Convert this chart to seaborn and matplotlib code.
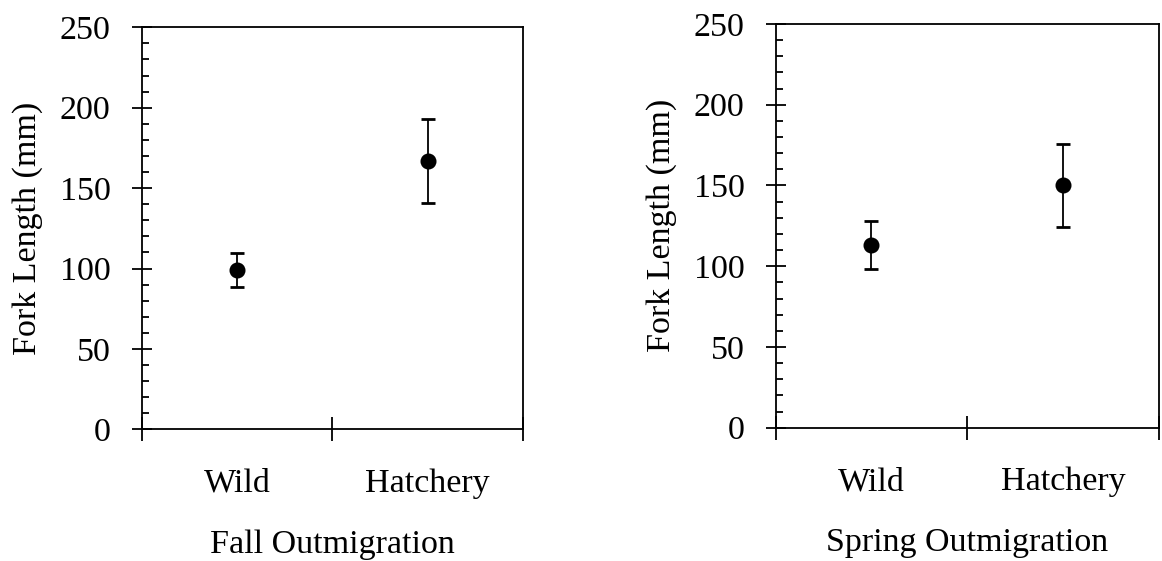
import numpy as np
import pandas as pd
import matplotlib
matplotlib.use("Agg")
import matplotlib.pyplot as plt
import seaborn as sns
from matplotlib.ticker import MultipleLocator, FixedLocator

# values (mean fork length and +/- spread, mm)
groups = ["Wild", "Hatchery"]
fall_mean = [99, 167]
fall_err = [10.5, 26]
spring_mean = [113, 150]
spring_err = [15, 26]
panel_titles = ["Fall Outmigration", "Spring Outmigration"]
y_ticks = [0, 50, 100, 150, 200, 250]

sns.set_style("ticks")
plt.rcParams["font.family"] = ["Liberation Serif", "DejaVu Serif"]
plt.rcParams["font.size"] = 24.5
plt.rcParams["text.color"] = "black"
plt.rcParams["axes.labelcolor"] = "black"
plt.rcParams["xtick.color"] = "black"
plt.rcParams["ytick.color"] = "black"

fig = plt.figure(figsize=(11.62, 5.61), dpi=100)
ax1 = fig.add_axes([0.1222, 0.2347, 0.3278, 0.7166])
ax2 = fig.add_axes([0.6675, 0.2376, 0.3299, 0.7196])

panels = [(ax1, fall_mean, fall_err, panel_titles[0]),
          (ax2, spring_mean, spring_err, panel_titles[1])]

for ax, means, errs, title in panels:
    df = pd.DataFrame({"group": groups, "mean": means, "err": errs})
    sns.pointplot(data=df, x="group", y="mean", order=groups, errorbar=None,
                  linestyle="none", color="black", marker="o", markersize=9.5,
                  ax=ax)
    pos = np.arange(len(groups))
    ax.errorbar(pos, df["mean"], yerr=df["err"], fmt="none", ecolor="black",
                elinewidth=1.3, capsize=5, capthick=2, zorder=1)

    ax.set_xlim(-0.5, len(groups) - 0.5)
    ax.set_ylim(0, 250)
    ax.set_yticks(y_ticks)
    ax.yaxis.set_minor_locator(MultipleLocator(10))
    ax.set_xticks(pos)
    ax.set_xticklabels(groups)
    ax.xaxis.set_minor_locator(FixedLocator(np.arange(len(groups) + 1) - 0.5))

    ax.tick_params(axis="x", which="major", length=0, pad=28, labelsize=24.5,
                   labelcolor="black")
    ax.tick_params(axis="x", which="minor", direction="inout", length=17,
                   width=1.3, color="black")
    ax.tick_params(axis="y", which="major", direction="inout", length=15,
                   width=1.3, pad=15, labelsize=24.5, color="black",
                   labelcolor="black")
    ax.tick_params(axis="y", which="minor", direction="in", length=5,
                   width=1.3, color="black")

    for sp in ax.spines.values():
        sp.set_visible(True)
        sp.set_color("black")
        sp.set_linewidth(1.3)

    ax.set_xlabel(title, fontsize=24.5, labelpad=22, color="black")
    ax.set_ylabel("Fork Length (mm)", fontsize=24.5, labelpad=12, color="black")

plt.savefig("out.png", dpi=100)
